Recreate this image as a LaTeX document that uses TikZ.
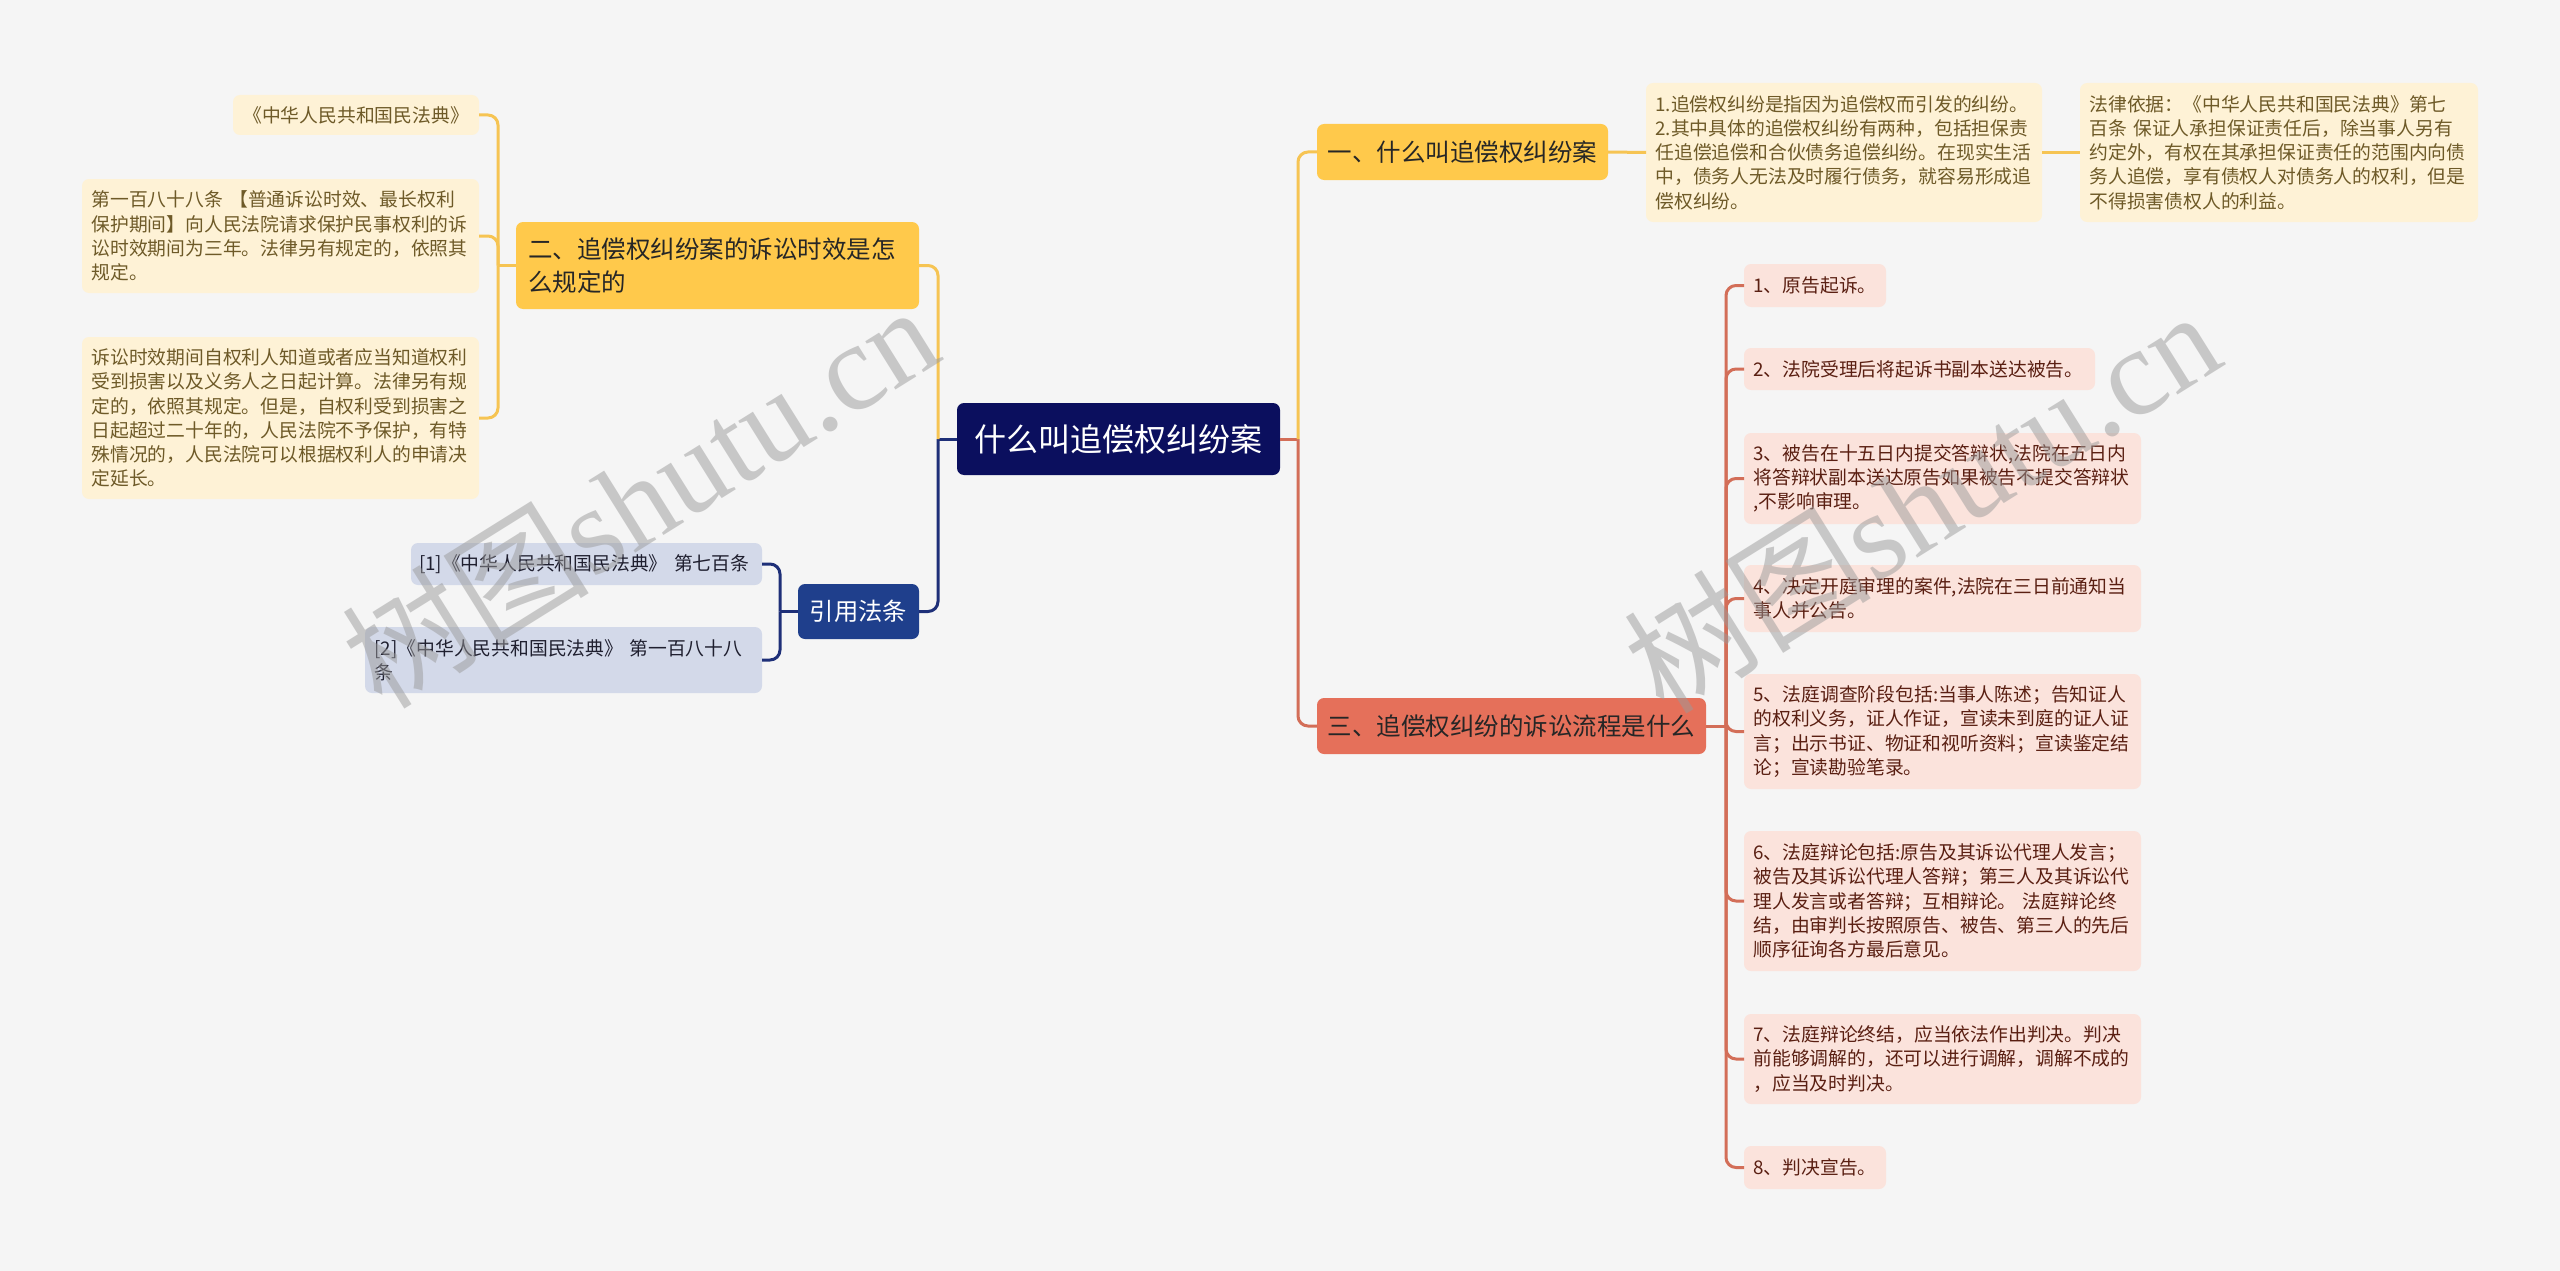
\documentclass[tikz,border=0pt]{standalone}
\usepackage{fontspec}
\setmainfont{Noto Sans CJK SC}
\newfontfamily\wmlat{Liberation Serif}
\definecolor{bgc}{HTML}{F5F5F5}
\definecolor{rootc}{HTML}{0B0F5E}
\definecolor{yelc}{HTML}{FFC94B}
\definecolor{redc}{HTML}{E5705A}
\definecolor{bluc}{HTML}{1F3F8C}
\definecolor{lyel}{HTML}{FEF2D6}
\definecolor{lred}{HTML}{FBE3DC}
\definecolor{lblu}{HTML}{D3D9E9}
\definecolor{tyel}{HTML}{6E5A28}
\definecolor{tred}{HTML}{5A1F12}
\definecolor{tblu}{HTML}{1F1F2F}
\definecolor{lnyel}{HTML}{F6C453}
\definecolor{lnred}{HTML}{D36E58}
\definecolor{lnblu}{HTML}{1E2F78}
\definecolor{wmc}{HTML}{9A9A9A}
\begin{document}
\begin{tikzpicture}[x=1pt,y=-1pt,
  boxbase/.style={rounded corners=7pt, anchor=north west, inner ysep=0pt, inner xsep=10pt, outer sep=0pt},
  rootbox/.style={boxbase, fill=rootc, text=white, align=center, font=\fontsize{32pt}{38pt}\selectfont},
  brY/.style={boxbase, fill=yelc, text=black!85, font=\fontsize{24.5pt}{33pt}\selectfont},
  brR/.style={boxbase, fill=redc, text=black!85, font=\fontsize{24.5pt}{33pt}\selectfont},
  brB/.style={boxbase, fill=bluc, text=white, font=\fontsize{24.3pt}{30pt}\selectfont},
  leafY/.style={boxbase, fill=lyel, text=tyel, align=left, inner xsep=9.5pt, font=\fontsize{18.8pt}{24.3pt}\selectfont},
  leafR/.style={boxbase, fill=lred, text=tred, align=left, inner xsep=9.5pt, font=\fontsize{18.8pt}{24.3pt}\selectfont},
  leafB/.style={boxbase, fill=lblu, text=tblu, align=left, inner xsep=9.5pt, font=\fontsize{18.8pt}{24.3pt}\selectfont},
  lnY/.style={draw=lnyel, line width=3pt, rounded corners=10pt},
  lnR/.style={draw=lnred, line width=3pt, rounded corners=10pt},
  lnB/.style={draw=lnblu, line width=3pt, rounded corners=10pt},
  wm/.style={text=wmc, text opacity=0.5, rotate=32, anchor=base, inner sep=0pt, font=\fontsize{124pt}{124pt}\selectfont}
]
\fill[bgc] (0,0) rectangle (2560,1271);
\useasboundingbox (0,0) rectangle (2560,1271);

% spine coordinates (fixed by the node layout)
\coordinate (spL) at (938,439);
\coordinate (spR) at (1298,439);
\coordinate (sp2) at (498,265.5);
\coordinate (spC) at (780,611.5);
\coordinate (sp3) at (1726,726);

% root
\node[rootbox, minimum width=323pt, minimum height=72pt] (root) at (957,403) {什么叫追偿权纠纷案};

% branch one
\node[brY, align=center, minimum width=291pt, minimum height=56pt] (b1) at (1317,124) {一、什么叫追偿权纠纷案};
\node[leafY, text width=377pt, minimum height=139pt] (la) at (1646,83) {1.追偿权纠纷是指因为追偿权而引发的纠纷。\\2.其中具体的追偿权纠纷有两种，包括担保责\\任追偿追偿和合伙债务追偿纠纷。在现实生活\\中，债务人无法及时履行债务，就容易形成追\\偿权纠纷。};
\node[leafY, text width=379pt, minimum height=139pt] (lb) at (2080,83) {法律依据：《中华人民共和国民法典》第七\\百条 保证人承担保证责任后，除当事人另有\\约定外，有权在其承担保证责任的范围内向债\\务人追偿，享有债权人对债务人的权利，但是\\不得损害债权人的利益。};

% branch two
\node[brY, align=left, inner xsep=12pt, text width=379pt, minimum height=87pt] (b2) at (516,222) {二、追偿权纠纷案的诉讼时效是怎\\么规定的};
\node[leafY, align=center, minimum width=246pt, minimum height=40pt] (y1) at (233,95) {《中华人民共和国民法典》};
\node[leafY, text width=378pt, minimum height=114pt] (y2) at (82,179) {第一百八十八条 【普通诉讼时效、最长权利\\保护期间】向人民法院请求保护民事权利的诉\\讼时效期间为三年。法律另有规定的，依照其\\规定。};
\node[leafY, text width=378pt, minimum height=162pt] (y3) at (82,337) {诉讼时效期间自权利人知道或者应当知道权利\\受到损害以及义务人之日起计算。法律另有规\\定的，依照其规定。但是，自权利受到损害之\\日起超过二十年的，人民法院不予保护，有特\\殊情况的，人民法院可以根据权利人的申请决\\定延长。};

% citations
\node[brB, align=center, minimum width=121pt, minimum height=55pt] (cite) at (798,584) {引用法条};
\node[leafB, inner xsep=8pt, text width=335pt, minimum height=42pt] (c1) at (411,543) {\mbox{[1]《中华人民共和国民法典》 第七百条}};
\node[leafB, text width=378pt, minimum height=66pt] (c2) at (365,627) {[2]《中华人民共和国民法典》 第一百八十八\\条};

% branch three
\node[brR, align=center, minimum width=389pt, minimum height=56pt] (b3) at (1317,698) {三、追偿权纠纷的诉讼流程是什么};
\node[leafR, text width=123pt, minimum height=43pt] (r1) at (1744,264) {1、原告起诉。};
\node[leafR, text width=332pt, minimum height=42pt] (r2) at (1744,348) {2、法院受理后将起诉书副本送达被告。};
\node[leafR, text width=378pt, minimum height=91pt] (r3) at (1744,433) {3、被告在十五日内提交答辩状,法院在五日内\\将答辩状副本送达原告如果被告不提交答辩状\\,不影响审理。};
\node[leafR, text width=378pt, minimum height=67pt] (r4) at (1744,565) {4、决定开庭审理的案件,法院在三日前通知当\\事人并公告。};
\node[leafR, text width=378pt, minimum height=115pt] (r5) at (1744,674) {5、法庭调查阶段包括:当事人陈述；告知证人\\的权利义务，证人作证，宣读未到庭的证人证\\言；出示书证、物证和视听资料；宣读鉴定结\\论；宣读勘验笔录。};
\node[leafR, text width=378pt, minimum height=140pt] (r6) at (1744,831) {6、法庭辩论包括:原告及其诉讼代理人发言；\\被告及其诉讼代理人答辩；第三人及其诉讼代\\理人发言或者答辩；互相辩论。 法庭辩论终\\结，由审判长按照原告、被告、第三人的先后\\顺序征询各方最后意见。};
\node[leafR, text width=378pt, minimum height=90pt] (r7) at (1744,1014) {7、法庭辩论终结，应当依法作出判决。判决\\前能够调解的，还可以进行调解，调解不成的\\，应当及时判决。};
\node[leafR, text width=123pt, minimum height=43pt] (r8) at (1744,1146) {8、判决宣告。};

% connectors
\draw[lnB] (root.west) -- (spL);
\draw[lnB] (spL) |- (cite.east);
\draw[lnY] (spL) |- (b2.east);
\draw[lnR] (root.east) -- (spR);
\draw[lnR] (spR) |- (b3.west);
\draw[lnY] (spR) |- (b1.west);
\draw[lnY] (b1.east) -- (la.west);
\draw[lnY] (la.east) -- (lb.west);
\draw[lnY] (b2.west) -- (sp2);
\draw[lnY] (sp2) |- (y1.east);
\draw[lnY] (sp2) |- (y2.east);
\draw[lnY] (sp2) |- (y3.east);
\draw[lnB] (cite.west) -- (spC);
\draw[lnB] (spC) |- (c1.east);
\draw[lnB] (spC) |- (c2.east);
\draw[lnR] (b3.east) -- (sp3);
\foreach \r in {r1,r2,r3,r4,r5,r6,r7,r8} {\draw[lnR] (sp3) |- (\r.west);}

% watermarks
\node[wm] (wm1) at (664,535) {树图{\wmlat shutu.cn}};
\node[wm] (wm2) at (1946,540) {树图{\wmlat shutu.cn}};
\end{tikzpicture}
\end{document}
